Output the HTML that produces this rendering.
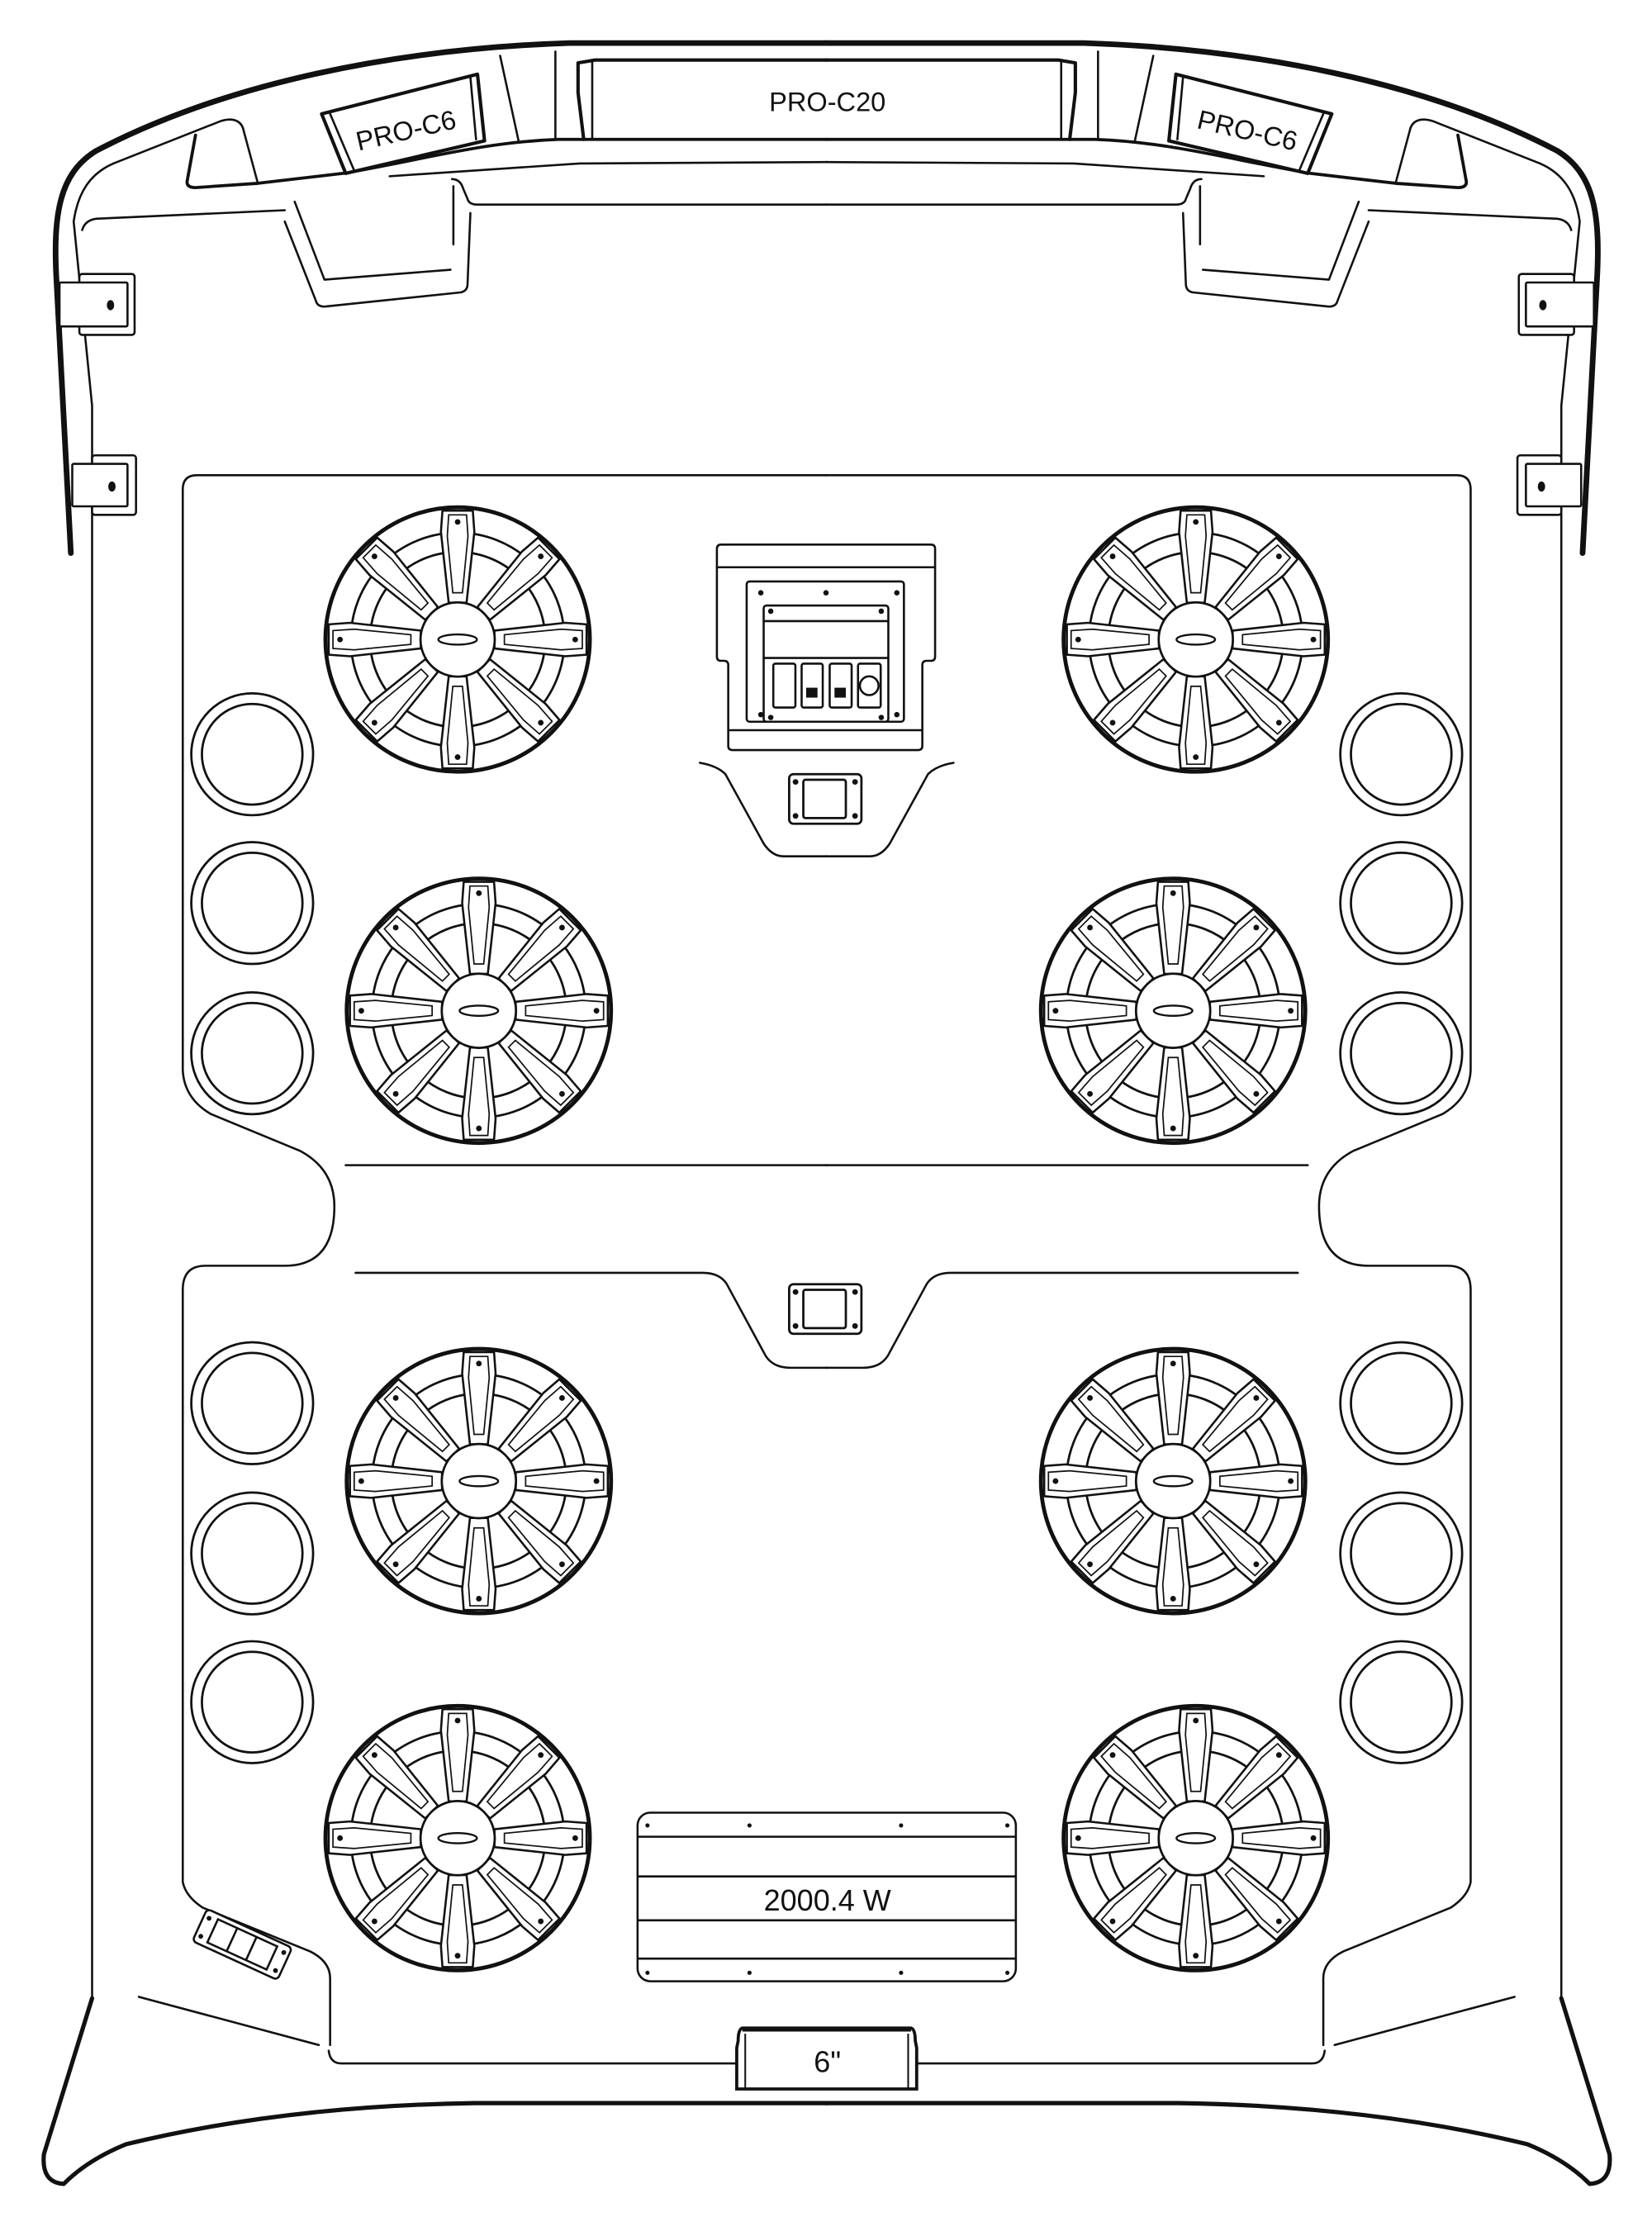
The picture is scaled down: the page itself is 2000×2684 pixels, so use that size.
<!DOCTYPE html>
<html><head><meta charset="utf-8"><style>
html,body{margin:0;padding:0;background:#fff}
svg{display:block}
text{font-family:"Liberation Sans",sans-serif;fill:#111}
</style></head><body>
<svg width="2000" height="2684" viewBox="0 0 1166 1564" xmlns="http://www.w3.org/2000/svg">
<defs>
<g id="spoke">
<path d="M-10.7,-91 L10.7,-91 L11.8,-76 L6.3,-26 L-6.3,-26 L-11.8,-76 Z" fill="#fff" stroke="#111" stroke-width="1.5" stroke-linejoin="round"/>
<path d="M-6.3,-88 L6.3,-88 L7.3,-73 L3.4,-33 L-3.4,-33 L-7.3,-73 Z" fill="none" stroke="#111" stroke-width="1"/>
<circle cx="0" cy="-83" r="2" fill="#111"/>
</g>
<g id="spk">
<circle r="93.3" fill="#fff" stroke="#111" stroke-width="2.8"/>
<circle r="75.4" fill="none" stroke="#111" stroke-width="1.6"/>
<circle r="61.8" fill="none" stroke="#111" stroke-width="1.6"/>
<use href="#spoke"/>
<use href="#spoke" transform="rotate(45)"/>
<use href="#spoke" transform="rotate(90)"/>
<use href="#spoke" transform="rotate(135)"/>
<use href="#spoke" transform="rotate(180)"/>
<use href="#spoke" transform="rotate(225)"/>
<use href="#spoke" transform="rotate(270)"/>
<use href="#spoke" transform="rotate(315)"/>
<circle r="26.2" fill="#fff" stroke="#111" stroke-width="1.6"/>
<ellipse rx="13.6" ry="3.6" fill="none" stroke="#111" stroke-width="1.4"/>
</g>
<g id="ring">
<circle r="43" fill="#fff" stroke="#111" stroke-width="1.6"/>
<circle r="35.5" fill="none" stroke="#111" stroke-width="1.6"/>
</g>
<g id="half" fill="none" stroke="#111" stroke-width="1.5" stroke-linecap="round" stroke-linejoin="round">
<path d="M50,390 L40,200 C37,150 42,122 68,106 C160,58 280,34 402,30 L584,30" stroke-width="4"/>
<path d="M65,1410 L65,286 L52,156 C55,135 64,122 80,115 L156,85 C166,82 171,86 172,92 L182,129"/>
<path d="M138,95 L132,128 Q132,132 138,132 L182,129 L242,122 C300,112 340,100 394,98 L584,98" stroke-width="2.2"/>
<path d="M275,124 L409,115 L584,114"/>
<path d="M353,39 L366,99"/>
<path d="M392,36 L392,98"/>
<path d="M58,162 Q60,155 68,154 L201,148"/>
<path d="M208,142 L229,197 L318,190"/>
<path d="M201,156 L223,212 Q224,216 229,216 L325,206 Q330,205 330,200 L332,150"/>
<path d="M320,131 L320,172"/>
<path d="M319,126 Q325,126 327,133 L330,140 Q331,144 337,144 L584,144"/>
<path d="M227,80 L337,52 L342,99 L244,122 Z" fill="#fff" stroke-width="2.4"/>
<path d="M233,80 L250,120 M332,54 L336,98"/>
<path d="M584,42 L420,42 L408,44 L408,65 L412,98" stroke-width="2.4"/>
<path d="M418,42 L418,98"/>
<rect x="56" y="193" width="39" height="43" rx="2" fill="#fff"/>
<rect x="42" y="199" width="48" height="31" rx="1" fill="#fff"/>
<ellipse cx="78" cy="215" rx="2.6" ry="3.6" fill="#111" stroke="none"/>
<rect x="65" y="321" width="31" height="42" rx="2" fill="#fff"/>
<rect x="51" y="327" width="39" height="30" rx="1" fill="#fff"/>
<ellipse cx="79" cy="343" rx="2.6" ry="3.6" fill="#111" stroke="none"/>
<path d="M584,335 L139,335 Q129,335 129,345 L129,755 Q130,775 149,786 L212,812 Q236,825 236,851 Q236,893 201,893 L145,893 Q129,893 129,910 L129,1328 Q131,1338 143,1346 L219,1377 Q233,1384 233,1396 L233,1443"/>
<path d="M244,822 L584,822"/>
<path d="M251,898 L496,898 Q508,898 513,906 L539,954 Q544,965 558,965 L584,965"/>
<path d="M494,538 Q506,540 512,546 L539,595 Q545,604 553,604 L584,604"/>
<path d="M98,1409 L225,1443"/>
<path d="M232,1447 Q233,1456 241,1456 L520,1456"/>
<path d="M65,1410 L31,1520 Q29,1540 45,1541 Q62,1524 89,1513 Q200,1486 335,1484 L584,1484" stroke-width="3"/>
</g>
</defs>

<use href="#half"/>
<use href="#half" transform="translate(1167,0) scale(-1,1)"/>

<text x="584" y="78" font-size="19" text-anchor="middle">PRO-C20</text>
<text transform="translate(288,98) rotate(-13)" font-size="19" text-anchor="middle">PRO-C6</text>
<text transform="translate(879,98) rotate(13)" font-size="19" text-anchor="middle">PRO-C6</text>

<g fill="none" stroke="#111" stroke-width="1.5" stroke-linejoin="round">
<path d="M509,384 L657,384 Q660,384 660,387 L660,463 Q660,466 657,466 L654,466 Q651,466 651,469 L651,526 Q651,529 648,529 L517,529 Q514,529 514,526 L514,469 Q514,466 511,466 L509,466 Q506,466 506,463 L506,387 Q506,384 509,384 Z" fill="#fff"/>
<line x1="506" y1="400" x2="660" y2="400"/>
<line x1="514" y1="515" x2="651" y2="515"/>
<rect x="527" y="410" width="111" height="99" rx="2"/>
<rect x="539" y="427" width="88" height="82" rx="2"/>
<line x1="539" y1="438" x2="627" y2="438"/>
<line x1="539" y1="464" x2="627" y2="464"/>
<rect x="545.8" y="468" width="15.6" height="31" rx="1.5"/>
<rect x="565.8" y="468" width="14.9" height="31" rx="1.5"/>
<rect x="585.6" y="468" width="15.5" height="31" rx="1.5"/>
<rect x="605.6" y="468" width="16" height="31" rx="1.5"/>
<circle cx="613.5" cy="483.6" r="6.6"/>
</g>
<g fill="#111">
<rect x="569" y="485" width="8" height="7"/>
<rect x="589" y="485" width="8" height="7"/>
<circle cx="537" cy="418" r="1.9"/><circle cx="583" cy="418" r="1.9"/><circle cx="633" cy="418" r="1.9"/>
<circle cx="537" cy="504" r="1.9"/><circle cx="633" cy="504" r="1.9"/>
<circle cx="544" cy="431" r="1.9"/><circle cx="622" cy="431" r="1.9"/>
<circle cx="544" cy="506" r="1.9"/><circle cx="622" cy="506" r="1.9"/>
</g>

<g fill="none" stroke="#111" stroke-width="1.6">
<rect x="557" y="546" width="51" height="35" rx="3"/>
<rect x="567" y="550" width="30" height="27" rx="1.5"/>
<rect x="557" y="906" width="51" height="35" rx="3"/>
<rect x="567" y="910" width="30" height="27" rx="1.5"/>
</g>
<g fill="#111">
<circle cx="561.5" cy="551.5" r="2"/><circle cx="603.5" cy="551.5" r="2"/><circle cx="561.5" cy="575.5" r="2"/><circle cx="603.5" cy="575.5" r="2"/>
<circle cx="561.5" cy="911.5" r="2"/><circle cx="603.5" cy="911.5" r="2"/><circle cx="561.5" cy="935.5" r="2"/><circle cx="603.5" cy="935.5" r="2"/>
</g>

<g transform="translate(171,1372) rotate(24.6)" stroke="#111" stroke-width="1.5" fill="#fff">
<rect x="-33" y="-12.5" width="66" height="25" rx="3"/>
<rect x="-23" y="-9" width="46" height="18" fill="none"/>
<line x1="-8" y1="-9" x2="-8" y2="9"/>
<line x1="7" y1="-9" x2="7" y2="9"/>
<circle cx="-29" cy="-7" r="1.7" fill="#111" stroke="none"/>
<circle cx="-29" cy="7" r="1.7" fill="#111" stroke="none"/>
<circle cx="29" cy="-7" r="1.7" fill="#111" stroke="none"/>
<circle cx="29" cy="7" r="1.7" fill="#111" stroke="none"/>
</g>

<g fill="none" stroke="#111" stroke-width="1.5">
<rect x="450" y="1279" width="267" height="119" rx="9"/>
<line x1="450" y1="1296" x2="717" y2="1296"/>
<line x1="450" y1="1324" x2="717" y2="1324"/>
<line x1="450" y1="1355" x2="717" y2="1355"/>
<line x1="450" y1="1382" x2="717" y2="1382"/>
</g>
<g fill="#111">
<circle cx="457" cy="1288" r="1.5"/><circle cx="529" cy="1288" r="1.5"/><circle cx="636" cy="1288" r="1.5"/><circle cx="711" cy="1288" r="1.5"/>
<circle cx="457" cy="1392" r="1.5"/><circle cx="529" cy="1392" r="1.5"/><circle cx="636" cy="1392" r="1.5"/><circle cx="711" cy="1392" r="1.5"/>
</g>
<text x="584" y="1348" font-size="21" text-anchor="middle">2000.4 W</text>

<path d="M524,1431 L643,1431 Q646,1432 646,1440 L647,1445 L647,1474 L520,1474 L520,1445 L521,1440 Q521,1432 524,1431 Z" fill="#fff" stroke="#111" stroke-width="2.2"/>
<line x1="526" y1="1435" x2="526" y2="1474" stroke="#111" stroke-width="1.2"/>
<line x1="641" y1="1435" x2="641" y2="1474" stroke="#111" stroke-width="1.2"/>
<line x1="524" y1="1432" x2="643" y2="1432" stroke="#111" stroke-width="3"/>
<text x="584" y="1462" font-size="21" text-anchor="middle">6"</text>

<use href="#ring" x="178" y="532"/><use href="#ring" x="178" y="637"/><use href="#ring" x="178" y="743"/>
<use href="#ring" x="178" y="990"/><use href="#ring" x="178" y="1096"/><use href="#ring" x="178" y="1201"/>
<use href="#ring" x="989" y="532"/><use href="#ring" x="989" y="637"/><use href="#ring" x="989" y="743"/>
<use href="#ring" x="989" y="990"/><use href="#ring" x="989" y="1096"/><use href="#ring" x="989" y="1201"/>

<use href="#spk" x="323" y="451"/>
<use href="#spk" x="844" y="451"/>
<use href="#spk" x="338" y="713"/>
<use href="#spk" x="828" y="713"/>
<use href="#spk" x="338" y="1045"/>
<use href="#spk" x="828" y="1045"/>
<use href="#spk" x="323" y="1297"/>
<use href="#spk" x="844" y="1297"/>
</svg>
</body></html>
